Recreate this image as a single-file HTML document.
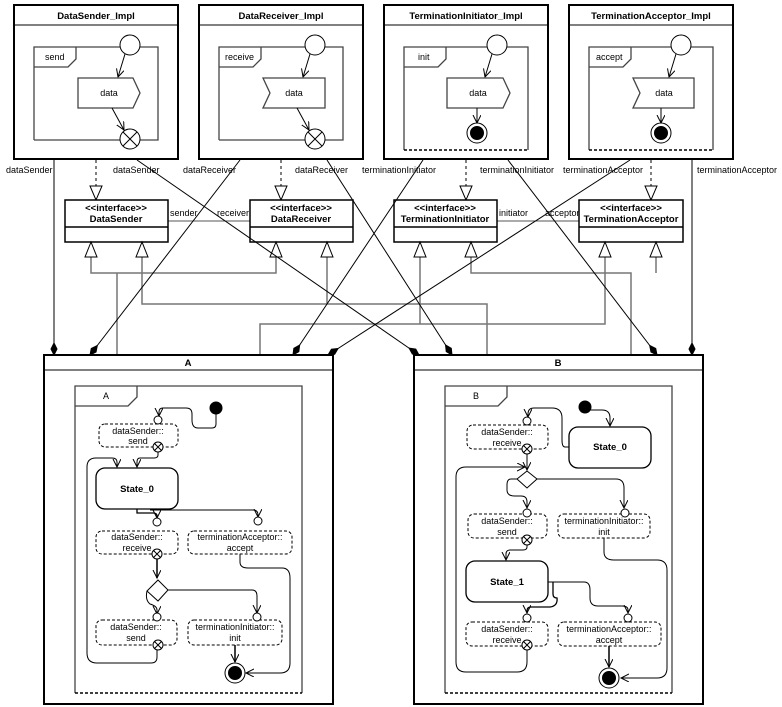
<!DOCTYPE html>
<html><head><meta charset="utf-8"><style>
html,body{margin:0;padding:0;background:#fff;}
svg{display:block;font-family:"Liberation Sans",Arial,sans-serif;}
text{font-size:9px;fill:#000;}
.b{font-weight:bold;font-size:9.5px;}
</style></head><body>
<svg width="782" height="707" viewBox="0 0 782 707" xmlns="http://www.w3.org/2000/svg">
<defs>
<marker id="ar" markerWidth="10" markerHeight="10" refX="8" refY="4" orient="auto" markerUnits="userSpaceOnUse"><path d="M0,0 L8,4 L0,8" fill="none" stroke="#000" stroke-width="1"/></marker>
<marker id="dm" markerWidth="14" markerHeight="10" refX="13" refY="4" orient="auto" markerUnits="userSpaceOnUse"><path d="M1,4 L7,1 L13,4 L7,7 z" fill="#000" stroke="#000"/></marker>
</defs>
<g fill="none" stroke="#000">
<!-- impl boxes -->
<g id="i1">
<rect x="14" y="5" width="164" height="154" stroke-width="2" fill="#fff"/>
<line x1="14" y1="25" x2="178" y2="25"/>
<path d="M34,140 V47 H158 V140 H34 M34,67 H68 L76,59 V47" stroke="#444" stroke-width="1.3"/>
<circle cx="130" cy="45" r="10" fill="#fff"/>
<line x1="125" y1="54" x2="118" y2="77" marker-end="url(#ar)"/>
<path d="M78,78 H133 L140,93 L133,108 H78 z" fill="#fff" stroke="#444" stroke-width="1.3"/>
<line x1="112" y1="108" x2="124" y2="130" marker-end="url(#ar)"/>
<circle cx="130" cy="139" r="10" fill="#fff"/><path d="M123,132 L137,146 M137,132 L123,146"/>
</g>
<g>
<rect x="199" y="5" width="164" height="154" stroke-width="2" fill="#fff"/>
<line x1="199" y1="25" x2="363" y2="25"/>
<path d="M219,140 V47 H343 V140 H219 M219,67 H253 L261,59 V47" stroke="#444" stroke-width="1.3"/>
<circle cx="315" cy="45" r="10" fill="#fff"/>
<line x1="310" y1="54" x2="303" y2="77" marker-end="url(#ar)"/>
<path d="M263,78 H325 V108 H263 L270,93 z" fill="#fff" stroke="#444" stroke-width="1.3"/>
<line x1="297" y1="108" x2="309" y2="130" marker-end="url(#ar)"/>
<circle cx="315" cy="139" r="10" fill="#fff"/><path d="M308,132 L322,146 M322,132 L308,146"/>
</g>
<g>
<rect x="384" y="5" width="164" height="154" stroke-width="2" fill="#fff"/>
<line x1="384" y1="25" x2="548" y2="25"/>
<path d="M404,150 V47 H528 V150 M404,67 H438 L446,59 V47" stroke="#444" stroke-width="1.3"/>
<line x1="404" y1="150" x2="528" y2="150" stroke-dasharray="3,2" stroke-width="1.5"/>
<circle cx="497" cy="45" r="10" fill="#fff"/>
<line x1="492" y1="54" x2="485" y2="77" marker-end="url(#ar)"/>
<path d="M447,78 H503 L510,93 L503,108 H447 z" fill="#fff" stroke="#444" stroke-width="1.3"/>
<line x1="477" y1="108" x2="477" y2="123" marker-end="url(#ar)"/>
<circle cx="477" cy="133" r="10" fill="#fff"/><circle cx="477" cy="133" r="6.5" fill="#000"/>
</g>
<g>
<rect x="569" y="5" width="164" height="154" stroke-width="2" fill="#fff"/>
<line x1="569" y1="25" x2="733" y2="25"/>
<path d="M589,150 V47 H713 V150 M589,67 H623 L631,59 V47" stroke="#444" stroke-width="1.3"/>
<line x1="589" y1="150" x2="713" y2="150" stroke-dasharray="3,2" stroke-width="1.5"/>
<circle cx="681" cy="45" r="10" fill="#fff"/>
<line x1="676" y1="54" x2="669" y2="77" marker-end="url(#ar)"/>
<path d="M633,78 H694 V108 H633 L640,93 z" fill="#fff" stroke="#444" stroke-width="1.3"/>
<line x1="661" y1="108" x2="661" y2="123" marker-end="url(#ar)"/>
<circle cx="661" cy="133" r="10" fill="#fff"/><circle cx="661" cy="133" r="6.5" fill="#000"/>
</g>
<!-- realizations -->
<g stroke-dasharray="3,3"><line x1="96" y1="160" x2="96" y2="187"/><line x1="281" y1="160" x2="281" y2="187"/><line x1="466" y1="160" x2="466" y2="187"/><line x1="651" y1="160" x2="651" y2="187"/></g>
<path d="M96,200 L90,186 H102 z M281,200 L275,186 H287 z M466,200 L460,186 H472 z M651,200 L645,186 H657 z" fill="#fff"/>
<!-- associations between interfaces -->
<line x1="168" y1="221" x2="250" y2="221" stroke="#555"/>
<line x1="497" y1="221" x2="579" y2="221" stroke="#555"/>
<!-- interfaces -->
<g stroke-width="1.5" fill="#fff">
<rect x="65" y="200" width="103" height="42"/><rect x="250" y="200" width="103" height="42"/><rect x="394" y="200" width="103" height="42"/><rect x="579" y="200" width="104" height="42"/>
</g>
<path d="M65,227 H168 M250,227 H353 M394,227 H497 M579,227 H683" stroke-width="1.5"/>
<!-- generalizations -->
<g stroke="#777" stroke-width="1.5">
<path d="M117,355 V273 M91,256 V273 H276 V256"/>
<path d="M142,256 V304 H487 V355 M327,256 V304"/>
<path d="M260,355 V324 H605 V256 M420,256 V324"/>
<path d="M631,355 V273 H471 V256 M656,256 V273"/>
</g>
<path d="M91,242 L85,257 H97 z M142,242 L136,257 H148 z M276,242 L270,257 H282 z M327,242 L321,257 H333 z M420,242 L414,257 H426 z M471,242 L465,257 H477 z M605,242 L599,257 H611 z M656,242 L650,257 H662 z" fill="#fff" stroke="#000"/>
<!-- compositions -->
<g stroke-width="1">
<line x1="54" y1="160" x2="54" y2="355" marker-end="url(#dm)"/>
<line x1="240" y1="160" x2="90" y2="355" marker-end="url(#dm)"/>
<line x1="137" y1="160" x2="419" y2="355" marker-end="url(#dm)"/>
<line x1="327" y1="160" x2="452" y2="355" marker-end="url(#dm)"/>
<line x1="423" y1="160" x2="293" y2="355" marker-end="url(#dm)"/>
<line x1="630" y1="160" x2="328" y2="355" marker-end="url(#dm)"/>
<line x1="508" y1="160" x2="657" y2="355" marker-end="url(#dm)"/>
<line x1="692" y1="160" x2="692" y2="355" marker-end="url(#dm)"/>
</g>
<!-- A box -->
<rect x="44" y="355" width="289" height="349" stroke-width="2" fill="#fff"/>
<line x1="44" y1="370" x2="333" y2="370"/>
<path d="M75,693 V386 H302 V693 M75,406 H128 L137,397 V386" stroke="#444" stroke-width="1.3"/>
<line x1="75" y1="693" x2="302" y2="693" stroke-dasharray="3,2" stroke-width="1.5"/>
<circle cx="216" cy="408" r="6" fill="#000"/>
<path d="M216,414 V424 Q216,428 212,428 H198 Q192,428 192,420 V414 Q192,408 186,408 H163 Q159,408 159,412 V416" marker-end="url(#ar)"/>
<rect x="99" y="424" width="79" height="23" rx="6" stroke-dasharray="3,2"/>
<circle cx="158" cy="420" r="4" fill="#fff"/>
<path d="M158,452 V455 Q158,458 154,458 H140 Q137,458 137,462 V467" marker-end="url(#ar)"/>
<circle cx="158" cy="447" r="5" fill="#fff"/><path d="M154.5,443.5 L161.5,450.5 M161.5,443.5 L154.5,450.5"/>
<rect x="96" y="468" width="82" height="41" rx="9" stroke-width="1.3"/>
<path d="M157,650 V657 Q157,663 151,663 H97 Q87,663 87,653 V467 Q87,458 96,458 H112 Q117,458 117,462 V467" marker-end="url(#ar)"/>
<path d="M137,509 V513 H153 Q157,513 157,516 V518" marker-end="url(#ar)" stroke-width="1.3"/>
<path d="M150,510 H253 Q258,510 258,515 V517" marker-end="url(#ar)"/>
<rect x="96" y="531" width="82" height="23" rx="6" stroke-dasharray="3,2"/>
<circle cx="157" cy="522" r="4" fill="#fff"/>
<rect x="188" y="531" width="104" height="23" rx="6" stroke-dasharray="3,2"/>
<circle cx="258" cy="521" r="4" fill="#fff"/>
<path d="M240,554 V562 Q240,568 248,568 H282 Q290,568 290,578 V663 Q290,673 280,673 H246" marker-end="url(#ar)"/>
<path d="M157,559 V578" marker-end="url(#ar)" stroke-width="1.5"/>
<circle cx="157" cy="554" r="5" fill="#fff"/><path d="M153.5,550.5 L160.5,557.5 M160.5,550.5 L153.5,557.5"/>
<path d="M158,580 L168,590 L158,601 L147,591 z" fill="#fff"/>
<path d="M147,591 Q145,600 150,604 Q157,606 157,610 V614" marker-end="url(#ar)"/>
<path d="M168,590 H252 Q257,590 257,596 V613" marker-end="url(#ar)"/>
<rect x="96" y="620" width="81" height="25" rx="6" stroke-dasharray="3,2"/>
<circle cx="157" cy="617" r="4" fill="#fff"/>
<circle cx="158" cy="645" r="5" fill="#fff"/><path d="M154.5,641.5 L161.5,648.5 M161.5,641.5 L154.5,648.5"/>
<rect x="188" y="620" width="94" height="25" rx="6" stroke-dasharray="3,2"/>
<circle cx="257" cy="617" r="4" fill="#fff"/>
<path d="M235,645 V662" marker-end="url(#ar)" stroke-width="1.5"/>
<circle cx="235" cy="673" r="10" fill="#fff"/><circle cx="235" cy="673" r="6.5" fill="#000"/>
<!-- B box -->
<rect x="414" y="355" width="289" height="349" stroke-width="2" fill="#fff"/>
<line x1="414" y1="370" x2="703" y2="370"/>
<path d="M445,693 V386 H672 V693 M445,406 H498 L507,397 V386" stroke="#444" stroke-width="1.3"/>
<line x1="445" y1="693" x2="672" y2="693" stroke-dasharray="3,2" stroke-width="1.5"/>
<circle cx="585" cy="407" r="6" fill="#000"/>
<path d="M590,410 H602 Q610,410 610,418 V426" marker-end="url(#ar)"/>
<rect x="569" y="427" width="82" height="41" rx="9" stroke-width="1.3"/>
<path d="M569,447 H565 Q562,447 562,440 V418 Q562,408 552,408 H534 Q528,408 528,414 V417" marker-end="url(#ar)"/>
<rect x="467" y="425" width="81" height="24" rx="6" stroke-dasharray="3,2"/>
<circle cx="527" cy="421" r="4" fill="#fff"/>
<path d="M527,454 V470" marker-end="url(#ar)"/>
<circle cx="527" cy="449" r="5" fill="#fff"/><path d="M523.5,445.5 L530.5,452.5 M530.5,445.5 L523.5,452.5"/>
<path d="M527,650 V662 Q527,672 517,672 H466 Q456,672 456,662 V477 Q456,467 466,467 H525" marker-end="url(#ar)"/>
<path d="M527,471 L537,479 L527,488 L517,479 z" fill="#fff"/>
<path d="M517,479 H511 Q507,479 507,485 V490 Q507,496 515,496 H521 Q527,496 527,502 V508" marker-end="url(#ar)"/>
<path d="M537,479 H616 Q624,479 624,488 V508" marker-end="url(#ar)"/>
<rect x="468" y="514" width="79" height="24" rx="6" stroke-dasharray="3,2"/>
<circle cx="527" cy="513" r="4" fill="#fff"/>
<rect x="558" y="514" width="92" height="24" rx="6" stroke-dasharray="3,2"/>
<circle cx="625" cy="513" r="4" fill="#fff"/>
<path d="M604,538 V552 Q604,560 614,560 H657 Q667,560 667,570 V668 Q667,678 657,678 H621" marker-end="url(#ar)"/>
<path d="M527,545 V547 Q527,550 523,550 H510 Q506,550 506,554 V560" marker-end="url(#ar)"/>
<circle cx="527" cy="540" r="5" fill="#fff"/><path d="M523.5,536.5 L530.5,543.5 M530.5,536.5 L523.5,543.5"/>
<rect x="466" y="561" width="82" height="41" rx="9" stroke-width="1.3"/>
<path d="M548,582 H584 Q590,582 590,590 V598 Q590,606 598,606 H622 Q628,606 628,610 V613" marker-end="url(#ar)"/>
<path d="M553,582 V594 Q553,598 557,598 Q558,606 550,607 H531 Q527,607 527,611 V613" marker-end="url(#ar)" stroke-width="1.3"/>
<rect x="466" y="622" width="82" height="24" rx="6" stroke-dasharray="3,2"/>
<circle cx="527" cy="618" r="4" fill="#fff"/>
<circle cx="527" cy="645" r="5" fill="#fff"/><path d="M523.5,641.5 L530.5,648.5 M530.5,641.5 L523.5,648.5"/>
<rect x="558" y="622" width="103" height="24" rx="6" stroke-dasharray="3,2"/>
<circle cx="628" cy="618" r="4" fill="#fff"/>
<path d="M609,646 V667" marker-end="url(#ar)" stroke-width="1.5"/>
<circle cx="609" cy="678" r="10" fill="#fff"/><circle cx="609" cy="678" r="6.5" fill="#000"/>
</g>
<!-- texts -->
<g text-anchor="middle">
<text class="b" x="96" y="19">DataSender_Impl</text>
<text class="b" x="281" y="19">DataReceiver_Impl</text>
<text class="b" x="466" y="19">TerminationInitiator_Impl</text>
<text class="b" x="651" y="19">TerminationAcceptor_Impl</text>
<text class="b" x="116" y="211">&lt;&lt;interface&gt;&gt;</text><text class="b" x="116" y="222">DataSender</text>
<text class="b" x="301" y="211">&lt;&lt;interface&gt;&gt;</text><text class="b" x="301" y="222">DataReceiver</text>
<text class="b" x="445" y="211">&lt;&lt;interface&gt;&gt;</text><text class="b" x="445" y="222">TerminationInitiator</text>
<text class="b" x="631" y="211">&lt;&lt;interface&gt;&gt;</text><text class="b" x="631" y="222">TerminationAcceptor</text>
<text x="109" y="96">data</text><text x="294" y="96">data</text><text x="478" y="96">data</text><text x="664" y="96">data</text>
<text class="b" x="188" y="366">A</text>
<text class="b" x="558" y="366">B</text>
<text x="106" y="399">A</text>
<text x="476" y="399">B</text>
<text x="138" y="434">dataSender::</text><text x="138" y="444">send</text>
<text class="b" x="137" y="492">State_0</text>
<text x="137" y="540">dataSender::</text><text x="137" y="551">receive</text>
<text x="240" y="540">terminationAcceptor::</text><text x="240" y="551">accept</text>
<text x="136" y="630">dataSender::</text><text x="136" y="641">send</text>
<text x="235" y="630">terminationInitiator::</text><text x="235" y="641">init</text>
<text x="507" y="435">dataSender::</text><text x="507" y="446">receive</text>
<text class="b" x="610" y="450">State_0</text>
<text x="507" y="524">dataSender::</text><text x="507" y="535">send</text>
<text x="604" y="524">terminationInitiator::</text><text x="604" y="535">init</text>
<text class="b" x="507" y="585">State_1</text>
<text x="507" y="632">dataSender::</text><text x="507" y="643">receive</text>
<text x="609" y="632">terminationAcceptor::</text><text x="609" y="643">accept</text>
</g>
<g>
<text x="45" y="60">send</text>
<text x="225" y="60">receive</text>
<text x="418" y="60">init</text>
<text x="596" y="60">accept</text>
<text x="6" y="173">dataSender</text>
<text x="113" y="173">dataSender</text>
<text x="183" y="173">dataReceiver</text>
<text x="295" y="173">dataReceiver</text>
<text x="362" y="173">terminationInitiator</text>
<text x="480" y="173">terminationInitiator</text>
<text x="563" y="173">terminationAcceptor</text>
<text x="697" y="173">terminationAcceptor</text>
<text x="170" y="216">sender</text>
<text x="217" y="216">receiver</text>
<text x="499" y="216">initiator</text>
<text x="545" y="216">acceptor</text>
</g>
</svg>
</body></html>
